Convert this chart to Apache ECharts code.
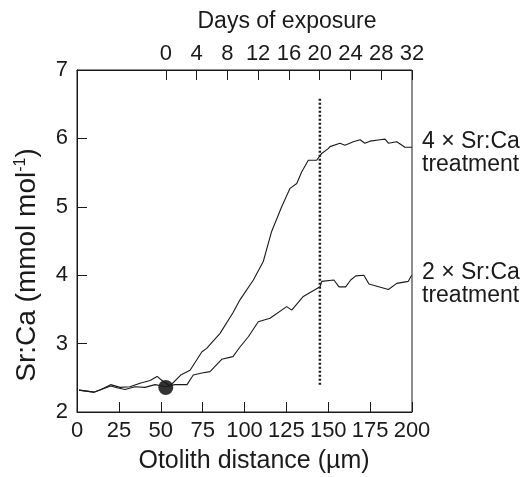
<!DOCTYPE html>
<html>
<head>
<meta charset="utf-8">
<script src="https://cdn.jsdelivr.net/npm/echarts@6/dist/echarts.min.js"></script>
<style>html,body{margin:0;padding:0;background:#fff;}#c{width:529px;height:477px;}</style>
</head>
<body>
<div id="c"></div>
<script>
// Distance (µm) and Sr:Ca (mmol mol-1) for the 4x treatment
var dist4x = [1.2,10.1,14.3,20.1,25.7,31.6,37.6,43.6,47.8,51.3,55.5,61.9,67.5,74.6,77.4,85.4,93.1,97.3,105.3,111.2,116.2,122.2,127.2,131.2,134.1,138.1,143.1,146.1,150.0,151.0,157.0,160.0,165.0,169.0,171.9,174.9,180.9,183.9,185.9,190.9,195.8,200];
var sr4x = [2.32,2.29,2.33,2.40,2.36,2.37,2.42,2.46,2.52,2.45,2.38,2.54,2.61,2.88,2.93,3.15,3.45,3.64,3.93,4.20,4.64,5.00,5.27,5.34,5.51,5.68,5.68,5.78,5.85,5.88,5.93,5.90,5.95,5.98,5.93,5.96,5.98,5.99,5.93,5.95,5.87,5.87];
// 2x treatment
var dist2x = [1.2,10.1,20.1,24.5,28.7,34.6,40.6,46.6,53.1,58.5,65.7,69.4,74.6,79.4,86.4,93.1,97.3,102.3,108.2,115.2,125.2,128.2,135.1,145.1,146.1,153.4,156.4,160.4,163.4,166.4,171.3,174.3,185.9,190.9,197.8,199.8];
var sr2x = [2.32,2.29,2.38,2.35,2.33,2.37,2.36,2.40,2.37,2.40,2.40,2.54,2.57,2.59,2.77,2.81,2.95,3.10,3.32,3.37,3.54,3.49,3.69,3.83,3.91,3.93,3.83,3.83,3.93,3.99,4.00,3.87,3.79,3.88,3.91,4.00];
// start of exposure marker
var startPoint = [53, 2.36];
// day 20 marker line
var day20Dist = 145;
var day20Range = [2.4, 6.6];
// axes
var dayTicks = [0,4,8,12,16,20,24,28,32];
var dayAtZeroDist = -11.54; // day value at 0 µm
var dayMax = 32;
// texts
var xTitle = 'Otolith distance (µm)';
var yTitle = 'Sr:Ca (mmol mol{sup|-1})';
var topTitle = 'Days of exposure';
var label4x = '4 \u00d7 Sr:Ca\ntreatment';
var label2x = '2 \u00d7 Sr:Ca\ntreatment';

function zip(a,b){return a.map(function(v,i){return [v,b[i]];});}

var font = 'Liberation Sans, Arial, sans-serif';
var ink = '#1a1a1a';
var chart = echarts.init(document.getElementById('c'), null, {renderer:'canvas'});
chart.setOption({
  backgroundColor:'#fff',
  animation:false,
  grid:{left:77,right:117,top:70,bottom:65,show:true,borderColor:ink,borderWidth:1},
  xAxis:[{
    type:'value', position:'bottom', min:0, max:200, interval:25,
    axisLine:{show:true,lineStyle:{color:ink}},
    axisTick:{inside:true,length:10,lineStyle:{color:ink}},
    axisLabel:{color:ink,fontSize:22,fontFamily:font,margin:8},
    splitLine:{show:false}
  },{
    type:'value', position:'top', min:dayAtZeroDist, max:dayMax,
    axisLine:{show:true,lineStyle:{color:ink}},
    axisTick:{inside:true,length:10,lineStyle:{color:ink},customValues:dayTicks},
    axisLabel:{color:ink,fontSize:22,fontFamily:font,margin:5,customValues:dayTicks},
    splitLine:{show:false}
  }],
  yAxis:[{
    type:'value', min:2, max:7, interval:1,
    axisLine:{show:true,lineStyle:{color:ink}},
    axisTick:{inside:true,length:10,lineStyle:{color:ink}},
    axisLabel:{color:ink,fontSize:22,fontFamily:font,margin:9},
    splitLine:{show:false}
  }],
  graphic:[
    {type:'text',x:287,y:22,style:{text:topTitle,fill:ink,font:'23px '+font,align:'center',verticalAlign:'middle'}},
    {type:'text',x:254,y:461,style:{text:xTitle,fill:ink,font:'25px '+font,align:'center',verticalAlign:'middle'}},
    {type:'text',x:27,y:265,rotation:Math.PI/2,style:{text:yTitle,fill:ink,font:'28px '+font,align:'center',verticalAlign:'middle',
      rich:{sup:{fontSize:16,fontFamily:font,fill:ink,verticalAlign:'top',padding:[0,0,11,0]}}}},
    {type:'text',x:422,y:130,style:{text:label4x,fill:ink,font:'23px '+font,lineHeight:23}},
    {type:'text',x:422,y:261,style:{text:label2x,fill:ink,font:'23px '+font,lineHeight:23}}
  ],
  series:[
    {type:'line',data:zip(dist4x,sr4x),showSymbol:false,lineStyle:{color:ink,width:1.1},silent:true},
    {type:'line',data:zip(dist2x,sr2x),showSymbol:false,lineStyle:{color:ink,width:1.1},silent:true},
    {type:'line',data:[[day20Dist,day20Range[0]],[day20Dist,day20Range[1]]],showSymbol:false,
      lineStyle:{color:ink,width:2.5,type:[2,2]},silent:true},
    {type:'scatter',data:[startPoint],symbolSize:15,itemStyle:{color:'#000'},silent:true}
  ]
});
</script>
</body>
</html>
